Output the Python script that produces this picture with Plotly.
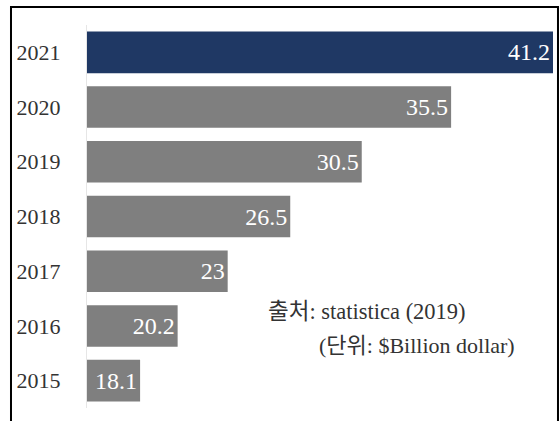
import plotly.graph_objects as go

years = ["2015", "2016", "2017", "2018", "2019", "2020", "2021"]
values = [18.1, 20.2, 23, 26.5, 30.5, 35.5, 41.2]
labels = ["18.1", "20.2", "23", "26.5", "30.5", "35.5", "41.2"]
bar_colors = ["#7f7f7f"] * 6 + ["#1f3864"]
source_text = "출처: statistica (2019)"
unit_text = "(단위: $Billion dollar)"

SERIF = "Liberation Serif, DejaVu Serif, Noto Sans CJK KR, serif"

fig = go.Figure()
fig.add_trace(go.Bar(
    y=years, x=values, orientation="h",
    marker=dict(color=bar_colors, line=dict(width=0)),
    text=labels, textposition="inside", insidetextanchor="end",
    textfont=dict(family=SERIF, size=24, color="white"),
    cliponaxis=False, hoverinfo="skip",
))

# frame (left, top, right sides)
x_l, x_r, y_t, y_b = -0.1631, 1.0107, 1.047, -0.1
fig.add_shape(type="path", xref="paper", yref="paper",
              path=f"M {x_l} {y_b} L {x_l} {y_t} L {x_r} {y_t} L {x_r} {y_b}",
              line=dict(color="black", width=2))

fig.add_annotation(xref="paper", yref="paper", x=0.601, y=0.253,
                   text=source_text, showarrow=False, xanchor="center",
                   yanchor="middle",
                   font=dict(family=SERIF, size=22.5, color="#333333"))
fig.add_annotation(xref="paper", yref="paper", x=0.709, y=0.162,
                   text=unit_text, showarrow=False, xanchor="center",
                   yanchor="middle",
                   font=dict(family=SERIF, size=22, color="#333333"))

fig.update_layout(
    width=559, height=421,
    margin=dict(l=87, r=6, t=25, b=13),
    paper_bgcolor="white", plot_bgcolor="white",
    bargap=0.24, showlegend=False,
    uniformtext=dict(minsize=10, mode="show"),
)
fig.update_xaxes(range=[15.13, 41.2], visible=False, fixedrange=True)
fig.update_yaxes(type="category", showgrid=False, zeroline=False,
                 showline=True, linecolor="#e6e6e6", linewidth=1,
                 ticks="", ticklabelstandoff=21,
                 tickfont=dict(family=SERIF, size=22, color="#333333"))

fig.write_html("out.html")
